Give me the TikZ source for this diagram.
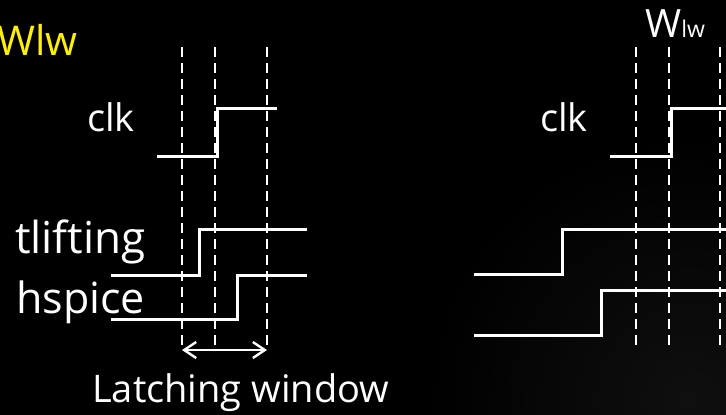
\documentclass[tikz,border=0pt]{standalone}
\usepackage{fontspec}
\setmainfont{Open Sans}
\usetikzlibrary{arrows.meta}

\begin{document}
\begin{tikzpicture}[x=1pt,y=-1pt,
    wave/.style={white,line width=3pt,line join=miter},
    guide/.style={white,line width=1.8pt,dash pattern=on 10pt off 6pt},
    lbl/.style={white,anchor=base west,inner sep=0pt}]
        % dark slide background
        \fill[black] (0,0) rectangle (726,415);
        \begin{scope}
        \clip (0,0) rectangle (726,415);
        \shade[inner color=black!94!white,outer color=black] (690,400) circle (260);
        \end{scope}
        \useasboundingbox (0,0) rectangle (726,415);
        % left: latching window
        \node[lbl,yellow,font=\fontsize{41}{48}\selectfont] (wlwa) at (-3,55) {Wlw};
        \draw[guide] (182,47) -- (182,350);
        \draw[guide] (215,47) -- (215,350);
        \draw[guide] (267,47) -- (267,350);
        \node[lbl,font=\fontsize{38}{45}\selectfont] (clka) at (87,131) {clk};
        \draw[wave] (157,156) -- (217,156) -- (217,108) -- (277,108);
        \node[lbl,font=\fontsize{44}{52}\selectfont] (tlift) at (15,253) {tlifting};
        \draw[wave] (111,275) -- (199,275) -- (199,229) -- (307,229);
        \node[lbl,font=\fontsize{43}{51}\selectfont] (hspice) at (16,313) {hspice};
        \draw[wave] (111,319) -- (237,319) -- (237,275) -- (307,275);
        \coordinate (wl) at (182,350);
        \coordinate (wr) at (267,350);
        \draw[white,line width=2.4pt,{Straight Barb[length=12pt,width=16pt]}-{Straight Barb[length=12pt,width=16pt]}] (wl) -- (wr);
        \node[lbl,font=\fontsize{38}{45}\selectfont] (latch) at (92,402) {Latching window};
        % right: the same two waves shifted out of the window
        \node[lbl,font=\fontsize{39}{46}\selectfont] (wlwb) at (645,37) {W\fontsize{23}{27}\selectfont lw};
        \draw[guide] (636,47) -- (636,348);
        \draw[guide] (669,47) -- (669,348);
        \draw[guide] (720,47) -- (720,348);
        \node[lbl,font=\fontsize{38}{45}\selectfont] (clkb) at (540,131) {clk};
        \draw[wave] (610,156) -- (671,156) -- (671,108) -- (730,108);
        \draw[wave] (474,274) -- (562,274) -- (562,229) -- (730,229);
        \draw[wave] (474,335) -- (601,335) -- (601,290) -- (730,290);
    \end{tikzpicture}
\end{document}
